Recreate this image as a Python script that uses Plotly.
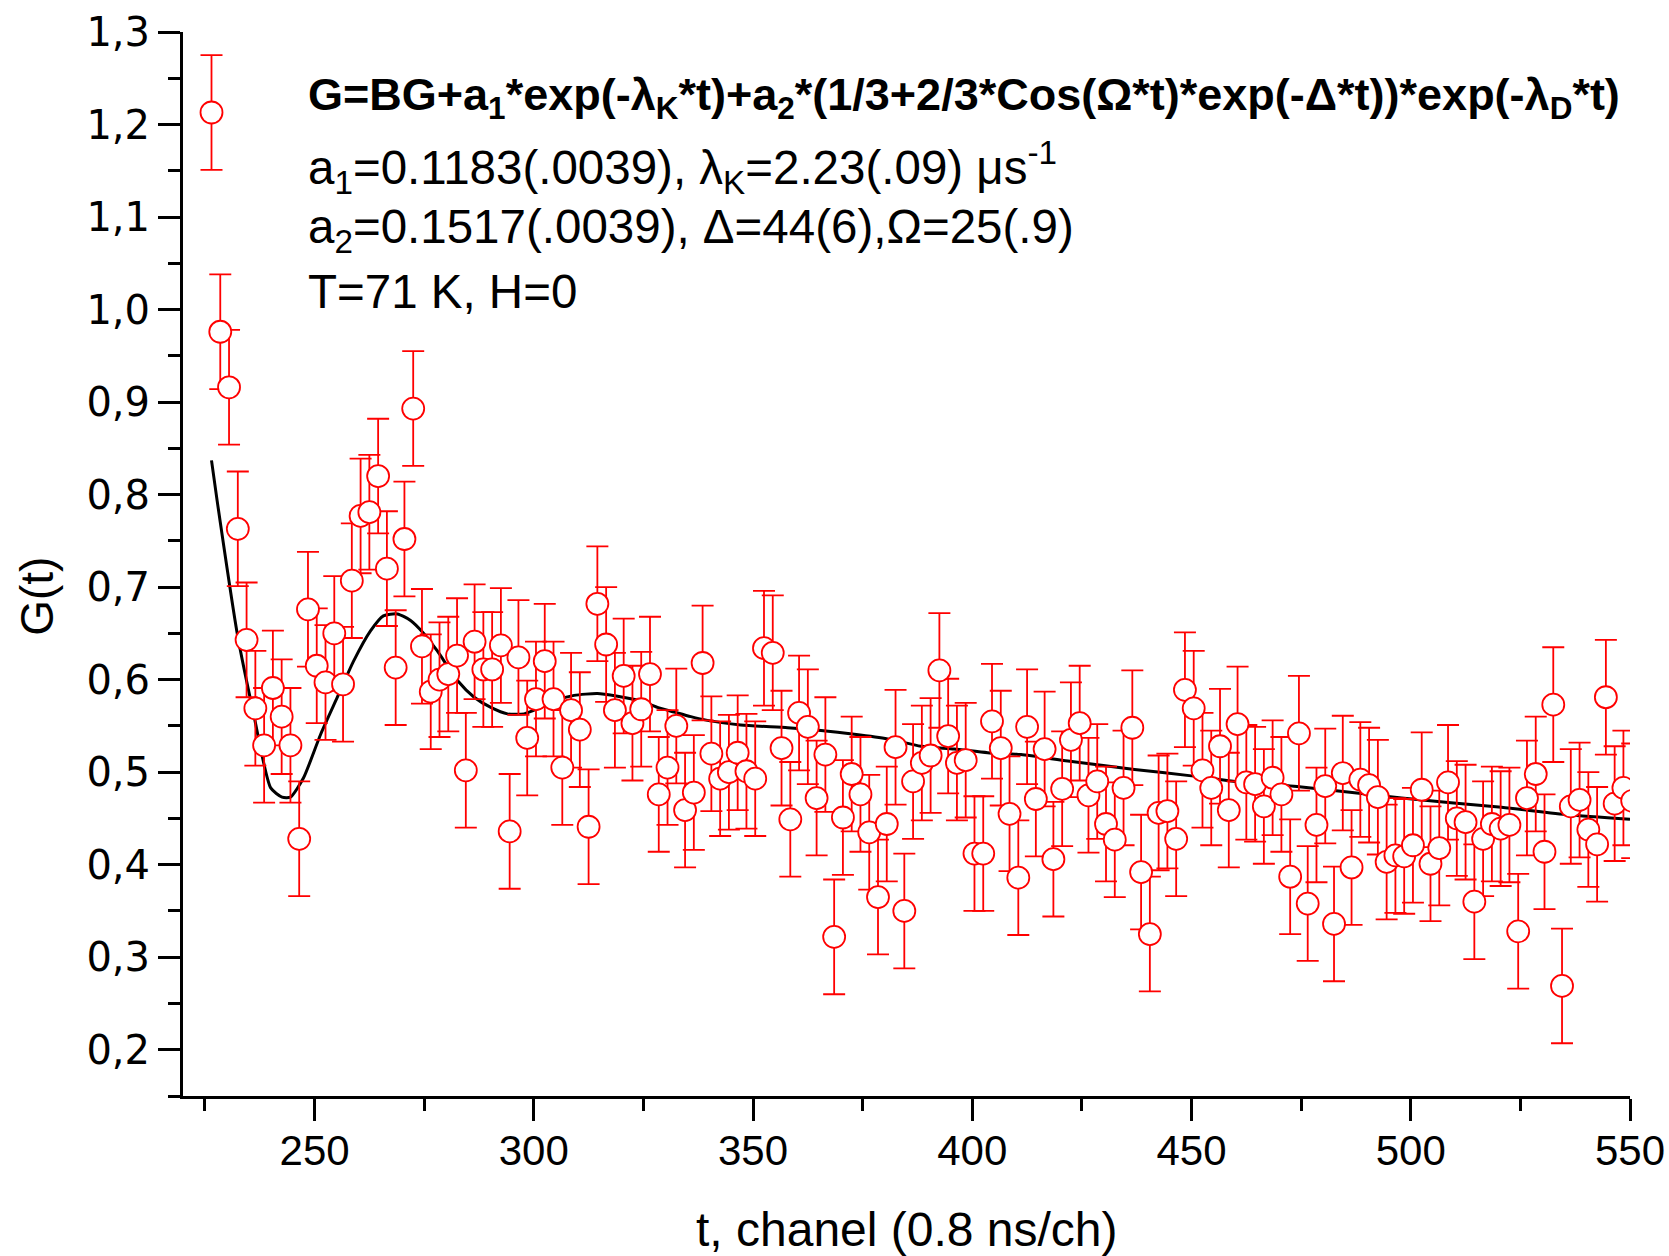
import plotly.graph_objects as go

# ---- data ----
channels = [
    226.5, 228.5, 230.5, 232.5, 234.5, 236.5, 238.5, 240.5, 242.5, 244.5,
    246.5, 248.5, 250.5, 252.5, 254.5, 256.5, 258.5, 260.5, 262.5, 264.5,
    266.5, 268.5, 270.5, 272.5, 274.5, 276.5, 278.5, 280.5, 282.5, 284.5,
    286.5, 288.5, 290.5, 292.5, 294.5, 296.5, 298.5, 300.5, 302.5, 304.5,
    306.5, 308.5, 310.5, 312.5, 314.5, 316.5, 318.5, 320.5, 322.5, 324.5,
    326.5, 328.5, 330.5, 332.5, 334.5, 336.5, 338.5, 340.5, 342.5, 344.5,
    346.5, 348.5, 350.5, 352.5, 354.5, 356.5, 358.5, 360.5, 362.5, 364.5,
    366.5, 368.5, 370.5, 372.5, 374.5, 376.5, 378.5, 380.5, 382.5, 384.5,
    386.5, 388.5, 390.5, 392.5, 394.5, 396.5, 398.5, 400.5, 402.5, 404.5,
    406.5, 408.5, 410.5, 412.5, 414.5, 416.5, 418.5, 420.5, 422.5, 424.5,
    426.5, 428.5, 430.5, 432.5, 434.5, 436.5, 438.5, 440.5, 442.5, 444.5,
    446.5, 448.5, 450.5, 452.5, 454.5, 456.5, 458.5, 460.5, 462.5, 464.5,
    466.5, 468.5, 470.5, 472.5, 474.5, 476.5, 478.5, 480.5, 482.5, 484.5,
    486.5, 488.5, 490.5, 492.5, 494.5, 496.5, 498.5, 500.5, 502.5, 504.5,
    506.5, 508.5, 510.5, 512.5, 514.5, 516.5, 518.5, 520.5, 522.5, 524.5,
    526.5, 528.5, 530.5, 532.5, 534.5, 536.5, 538.5, 540.5, 542.5, 544.5,
    546.5, 548.5, 550.5,
]

g_values = [
    1.213, 0.976, 0.916, 0.763, 0.643, 0.569, 0.529, 0.591, 0.560, 0.529,
    0.428, 0.676, 0.615, 0.597, 0.650, 0.595, 0.707, 0.777, 0.781, 0.820,
    0.720, 0.613, 0.752, 0.893, 0.636, 0.587, 0.600, 0.606, 0.626, 0.502,
    0.641, 0.611, 0.611, 0.637, 0.436, 0.624, 0.537, 0.579, 0.620, 0.579,
    0.505, 0.567, 0.546, 0.441, 0.682, 0.638, 0.567, 0.604, 0.553, 0.568,
    0.606, 0.476, 0.505, 0.550, 0.459, 0.478, 0.618, 0.520, 0.493, 0.500,
    0.521, 0.501, 0.493, 0.634, 0.629, 0.526, 0.449, 0.564, 0.549, 0.472,
    0.519, 0.322, 0.451, 0.498, 0.476, 0.435, 0.365, 0.444, 0.527, 0.350,
    0.490, 0.510, 0.518, 0.610, 0.539, 0.510, 0.513, 0.412, 0.412, 0.555,
    0.526, 0.455, 0.386, 0.549, 0.471, 0.525, 0.406, 0.482, 0.535, 0.553,
    0.475, 0.490, 0.444, 0.427, 0.483, 0.548, 0.392, 0.325, 0.456, 0.458,
    0.428, 0.589, 0.569, 0.502, 0.483, 0.528, 0.459, 0.552, 0.489, 0.487,
    0.463, 0.494, 0.476, 0.387, 0.542, 0.358, 0.443, 0.485, 0.336, 0.499,
    0.397, 0.492, 0.486, 0.473, 0.403, 0.410, 0.409, 0.421, 0.481, 0.401,
    0.418, 0.489, 0.450, 0.446, 0.360, 0.428, 0.444, 0.439, 0.443, 0.328,
    0.472, 0.498, 0.414, 0.573, 0.269, 0.463, 0.470, 0.438, 0.422, 0.581,
    0.466, 0.483, 0.469,
]

g_error = 0.062

fit_t = [226.5, 227.8, 232.4, 236.1, 240.0, 242.6, 244.5, 247.5, 251.4, 255.2,
         258.9, 262.8, 265.7, 268.9, 271.9, 274.9, 278.0, 282.6, 286.4, 290.2,
         294.0, 297.8, 301.6, 305.4, 309.2, 314.5, 319.1, 324.4, 328.2, 332.0,
         335.8, 339.6, 347.2, 357.9, 365.5, 373.1, 380.7, 388.3, 395.9, 403.5,
         411.1, 421.8, 437.0, 450.0, 459.9, 475.1, 497.9, 520.7, 535.9, 550.0]
fit_g = [0.837, 0.793, 0.649, 0.563, 0.483, 0.473, 0.473, 0.494, 0.541, 0.581,
         0.620, 0.653, 0.669, 0.671, 0.664, 0.650, 0.631, 0.599, 0.581, 0.570,
         0.563, 0.563, 0.570, 0.578, 0.583, 0.585, 0.582, 0.577, 0.570, 0.565,
         0.560, 0.556, 0.551, 0.548, 0.545, 0.541, 0.536, 0.528, 0.525, 0.521,
         0.519, 0.512, 0.503, 0.496, 0.490, 0.484, 0.472, 0.462, 0.454, 0.449]

y_ticks = [0.2, 0.3, 0.4, 0.5, 0.6, 0.7, 0.8, 0.9, 1.0, 1.1, 1.2, 1.3]
x_ticks = [250, 300, 350, 400, 450, 500, 550]

text_lines = [
    "<b>G=BG+a<sub>1</sub>*exp(-λ<sub>K</sub>*t)+a<sub>2</sub>*(1/3+2/3*Cos(Ω*t)*exp(-Δ*t))*exp(-λ<sub>D</sub>*t)</b>",
    "a<sub>1</sub>=0.1183(.0039), λ<sub>K</sub>=2.23(.09) μs<sup>-1</sup>",
    "a<sub>2</sub>=0.1517(.0039), Δ=44(6),Ω=25(.9)",
    "T=71 K, H=0",
]
text_y = [1.229, 1.154, 1.086, 1.020]
text_size = [45, 47.5, 47.5, 47.5]

FONT = "Liberation Sans, Arial, Helvetica, sans-serif"
YTICK_FONT = "DejaVu Sans, Verdana, sans-serif"

fig = go.Figure()

fig.add_trace(go.Scatter(
    x=fit_t, y=fit_g, mode="lines",
    line=dict(color="black", width=3, shape="spline", smoothing=0.6),
    showlegend=False, hoverinfo="skip",
))

fig.add_trace(go.Scatter(
    x=channels, y=g_values, mode="markers",
    marker=dict(symbol="circle", size=22, color="white",
                line=dict(color="#ff0000", width=1.8)),
    error_y=dict(type="constant", value=g_error, color="#ff0000",
                 thickness=1.8, width=11),
    showlegend=False,
))

for txt, yy, sz in zip(text_lines, text_y, text_size):
    fig.add_annotation(x=248.0, y=yy, xref="x", yref="y", text=txt,
                       showarrow=False, xanchor="left", yanchor="middle",
                       font=dict(family=FONT, size=sz, color="black"))

fig.add_annotation(x=-0.101, y=0.47, xref="paper", yref="paper", text="G(t)",
                   textangle=-90, showarrow=False, xanchor="center", yanchor="middle",
                   font=dict(family=FONT, size=46, color="black"))
fig.add_annotation(x=0.5, y=-0.125, xref="paper", yref="paper",
                   text="t, chanel (0.8 ns/ch)", showarrow=False,
                   xanchor="center", yanchor="middle",
                   font=dict(family=FONT, size=48, color="black"))

fig.update_xaxes(
    range=[220, 550], showgrid=False, zeroline=False,
    showline=True, linecolor="black", linewidth=3,
    ticks="outside", ticklen=22, tickwidth=3, tickcolor="black",
    tickvals=x_ticks, ticklabelstandoff=-6,
    tickfont=dict(family=FONT, size=42, color="black"),
    minor=dict(dtick=25, tick0=225, ticks="outside", ticklen=12,
               tickwidth=3, tickcolor="black", showgrid=False),
)
fig.update_yaxes(
    range=[0.15, 1.3], showgrid=False, zeroline=False,
    showline=True, linecolor="black", linewidth=3,
    ticks="outside", ticklen=22, tickwidth=3, tickcolor="black",
    tickvals=y_ticks, tickformat=".1f", ticklabelstandoff=0,
    tickfont=dict(family=YTICK_FONT, size=40, color="black"),
    minor=dict(dtick=0.05, tick0=0.15, ticks="outside", ticklen=12,
               tickwidth=3, tickcolor="black", showgrid=False),
)

fig.update_layout(
    width=1669, height=1256,
    margin=dict(l=183, r=39, t=32, b=160, autoexpand=False),
    plot_bgcolor="white", paper_bgcolor="white",
    separators=", ",
    font=dict(family=FONT, color="black"),
)

fig.write_html("out.html", config={"displayModeBar": False},
               post_script="document.body.style.margin='0';")
